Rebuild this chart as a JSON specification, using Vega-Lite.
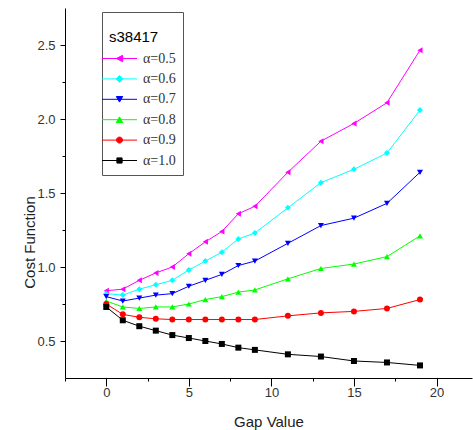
{
  "$schema": "https://vega.github.io/schema/vega-lite/v6.json",
  "width": 407,
  "height": 370,
  "autosize": {"type": "none"},
  "padding": {"left": 65, "top": 8, "right": 1, "bottom": 52},
  "background": "white",
  "config": {"view": {"stroke": null}, "font": "Liberation Sans"},
  "data": {"values": [
    {"gap": 0, "cost": 0.84, "alpha": "α=0.5"}, {"gap": 1, "cost": 0.85, "alpha": "α=0.5"}, {"gap": 2, "cost": 0.91, "alpha": "α=0.5"}, {"gap": 3, "cost": 0.96, "alpha": "α=0.5"}, {"gap": 4, "cost": 1.0, "alpha": "α=0.5"}, {"gap": 5, "cost": 1.09, "alpha": "α=0.5"}, {"gap": 6, "cost": 1.17, "alpha": "α=0.5"}, {"gap": 7, "cost": 1.24, "alpha": "α=0.5"}, {"gap": 8, "cost": 1.36, "alpha": "α=0.5"}, {"gap": 9, "cost": 1.41, "alpha": "α=0.5"}, {"gap": 11, "cost": 1.64, "alpha": "α=0.5"}, {"gap": 13, "cost": 1.85, "alpha": "α=0.5"}, {"gap": 15, "cost": 1.97, "alpha": "α=0.5"}, {"gap": 17, "cost": 2.11, "alpha": "α=0.5"}, {"gap": 19, "cost": 2.465, "alpha": "α=0.5"},
    {"gap": 0, "cost": 0.82, "alpha": "α=0.6"}, {"gap": 1, "cost": 0.81, "alpha": "α=0.6"}, {"gap": 2, "cost": 0.85, "alpha": "α=0.6"}, {"gap": 3, "cost": 0.88, "alpha": "α=0.6"}, {"gap": 4, "cost": 0.91, "alpha": "α=0.6"}, {"gap": 5, "cost": 0.98, "alpha": "α=0.6"}, {"gap": 6, "cost": 1.04, "alpha": "α=0.6"}, {"gap": 7, "cost": 1.1, "alpha": "α=0.6"}, {"gap": 8, "cost": 1.19, "alpha": "α=0.6"}, {"gap": 9, "cost": 1.23, "alpha": "α=0.6"}, {"gap": 11, "cost": 1.4, "alpha": "α=0.6"}, {"gap": 13, "cost": 1.57, "alpha": "α=0.6"}, {"gap": 15, "cost": 1.66, "alpha": "α=0.6"}, {"gap": 17, "cost": 1.77, "alpha": "α=0.6"}, {"gap": 19, "cost": 2.06, "alpha": "α=0.6"},
    {"gap": 0, "cost": 0.8, "alpha": "α=0.7"}, {"gap": 1, "cost": 0.77, "alpha": "α=0.7"}, {"gap": 2, "cost": 0.79, "alpha": "α=0.7"}, {"gap": 3, "cost": 0.81, "alpha": "α=0.7"}, {"gap": 4, "cost": 0.82, "alpha": "α=0.7"}, {"gap": 5, "cost": 0.87, "alpha": "α=0.7"}, {"gap": 6, "cost": 0.91, "alpha": "α=0.7"}, {"gap": 7, "cost": 0.95, "alpha": "α=0.7"}, {"gap": 8, "cost": 1.01, "alpha": "α=0.7"}, {"gap": 9, "cost": 1.04, "alpha": "α=0.7"}, {"gap": 11, "cost": 1.16, "alpha": "α=0.7"}, {"gap": 13, "cost": 1.28, "alpha": "α=0.7"}, {"gap": 15, "cost": 1.33, "alpha": "α=0.7"}, {"gap": 17, "cost": 1.43, "alpha": "α=0.7"}, {"gap": 19, "cost": 1.64, "alpha": "α=0.7"},
    {"gap": 0, "cost": 0.77, "alpha": "α=0.8"}, {"gap": 1, "cost": 0.73, "alpha": "α=0.8"}, {"gap": 2, "cost": 0.72, "alpha": "α=0.8"}, {"gap": 3, "cost": 0.73, "alpha": "α=0.8"}, {"gap": 4, "cost": 0.73, "alpha": "α=0.8"}, {"gap": 5, "cost": 0.75, "alpha": "α=0.8"}, {"gap": 6, "cost": 0.78, "alpha": "α=0.8"}, {"gap": 7, "cost": 0.8, "alpha": "α=0.8"}, {"gap": 8, "cost": 0.83, "alpha": "α=0.8"}, {"gap": 9, "cost": 0.845, "alpha": "α=0.8"}, {"gap": 11, "cost": 0.92, "alpha": "α=0.8"}, {"gap": 13, "cost": 0.99, "alpha": "α=0.8"}, {"gap": 15, "cost": 1.02, "alpha": "α=0.8"}, {"gap": 17, "cost": 1.07, "alpha": "α=0.8"}, {"gap": 19, "cost": 1.21, "alpha": "α=0.8"},
    {"gap": 0, "cost": 0.75, "alpha": "α=0.9"}, {"gap": 1, "cost": 0.68, "alpha": "α=0.9"}, {"gap": 2, "cost": 0.66, "alpha": "α=0.9"}, {"gap": 3, "cost": 0.65, "alpha": "α=0.9"}, {"gap": 4, "cost": 0.645, "alpha": "α=0.9"}, {"gap": 5, "cost": 0.645, "alpha": "α=0.9"}, {"gap": 6, "cost": 0.645, "alpha": "α=0.9"}, {"gap": 7, "cost": 0.645, "alpha": "α=0.9"}, {"gap": 8, "cost": 0.645, "alpha": "α=0.9"}, {"gap": 9, "cost": 0.645, "alpha": "α=0.9"}, {"gap": 11, "cost": 0.67, "alpha": "α=0.9"}, {"gap": 13, "cost": 0.69, "alpha": "α=0.9"}, {"gap": 15, "cost": 0.7, "alpha": "α=0.9"}, {"gap": 17, "cost": 0.72, "alpha": "α=0.9"}, {"gap": 19, "cost": 0.78, "alpha": "α=0.9"},
    {"gap": 0, "cost": 0.73, "alpha": "α=1.0"}, {"gap": 1, "cost": 0.64, "alpha": "α=1.0"}, {"gap": 2, "cost": 0.6, "alpha": "α=1.0"}, {"gap": 3, "cost": 0.57, "alpha": "α=1.0"}, {"gap": 4, "cost": 0.54, "alpha": "α=1.0"}, {"gap": 5, "cost": 0.52, "alpha": "α=1.0"}, {"gap": 6, "cost": 0.5, "alpha": "α=1.0"}, {"gap": 7, "cost": 0.48, "alpha": "α=1.0"}, {"gap": 8, "cost": 0.455, "alpha": "α=1.0"}, {"gap": 9, "cost": 0.44, "alpha": "α=1.0"}, {"gap": 11, "cost": 0.41, "alpha": "α=1.0"}, {"gap": 13, "cost": 0.395, "alpha": "α=1.0"}, {"gap": 15, "cost": 0.365, "alpha": "α=1.0"}, {"gap": 17, "cost": 0.355, "alpha": "α=1.0"}, {"gap": 19, "cost": 0.335, "alpha": "α=1.0"}
  ]},
  "encoding": {
    "x": {
      "field": "gap", "type": "quantitative",
      "scale": {"domain": [-2.5, 22.15], "nice": false, "zero": false},
      "axis": {
        "values": [-2.5, 0, 2.5, 5, 7.5, 10, 12.5, 15, 17.5, 20],
        "labelExpr": "datum.value % 5 === 0 ? datum.label : ''",
        "title": "Gap Value", "grid": false,
        "tickSize": {"condition": {"test": "datum.value % 5 === 0", "value": 8}, "value": 3},
        "domainColor": "black", "tickColor": "black", "tickWidth": 1, "domainWidth": 1,
        "labelFont": "Liberation Sans", "labelFontSize": 13, "labelColor": "#333", "labelPadding": 0,
        "labelFlush": false, "labelOverlap": false,
        "titleFont": "Liberation Sans", "titleFontSize": 15, "titleFontWeight": "normal", "titleColor": "#222", "titlePadding": 15
      }
    },
    "y": {
      "field": "cost", "type": "quantitative",
      "scale": {"domain": [0.25, 2.75], "nice": false, "zero": false},
      "axis": {
        "values": [0.5, 0.75, 1, 1.25, 1.5, 1.75, 2, 2.25, 2.5],
        "labelExpr": "abs(datum.value * 2 - round(datum.value * 2)) < 0.01 ? format(datum.value, '.1f') : ''",
        "title": "Cost Function", "grid": false,
        "tickSize": {"condition": {"test": "abs(datum.value * 2 - round(datum.value * 2)) < 0.01", "value": 5}, "value": 3},
        "domainColor": "black", "tickColor": "black", "tickWidth": 1, "domainWidth": 1,
        "labelFont": "Liberation Sans", "labelFontSize": 13, "labelColor": "#333", "labelPadding": 5,
        "labelFlush": false, "labelOverlap": false,
        "titleFont": "Liberation Sans", "titleFontSize": 15, "titleFontWeight": "normal", "titleColor": "#222",
        "titleX": -36, "titleY": 234, "titleBaseline": "middle"
      }
    }
  },
  "resolve": {"scale": {"color": "independent", "shape": "independent", "fill": "independent", "stroke": "independent"}},
  "layer": [
    {
      "mark": {"type": "line", "strokeWidth": 1},
      "encoding": {
        "color": {"field": "alpha", "type": "nominal", "legend": null,
          "scale": {"domain": ["α=0.5", "α=0.6", "α=0.7", "α=0.8", "α=0.9", "α=1.0"], "range": ["#FF00FF", "#00FFFF", "#0000FF", "#00FF00", "#FF0000", "#000000"]}}
      }
    },
    {
      "mark": {"type": "point", "filled": true, "size": 36, "opacity": 1},
      "encoding": {
        "color": {"field": "alpha", "type": "nominal", "legend": null,
          "scale": {"domain": ["α=0.5", "α=0.6", "α=0.7", "α=0.8", "α=0.9", "α=1.0"], "range": ["#FF00FF", "#00FFFF", "#0000FF", "#00FF00", "#FF0000", "#000000"]}},
        "shape": {"field": "alpha", "type": "nominal", "legend": null,
          "scale": {"domain": ["α=0.5", "α=0.6", "α=0.7", "α=0.8", "α=0.9", "α=1.0"], "range": ["triangle-left", "diamond", "triangle-down", "triangle-up", "circle", "square"]}}
      }
    },
    {
      "transform": [{"filter": "false"}],
      "mark": {"type": "point", "filled": true, "opacity": 1, "strokeWidth": 1},
      "encoding": {
        "fill": {"field": "alpha", "type": "nominal",
          "scale": {"domain": ["α=0.5", "α=0.6", "α=0.7", "α=0.8", "α=0.9", "α=1.0"], "range": ["#FF00FF", "#00FFFF", "#0000FF", "#00FF00", "#FF0000", "#000000"]},
          "legend": {
            "orient": "none", "legendX": 37, "legendY": 4,
            "title": ["", "s38417"],
            "titleFont": "Liberation Sans", "titleFontSize": 15, "titleFontWeight": "normal", "titleColor": "black",
            "titleLineHeight": 11, "titlePadding": 3, "titleAnchor": "start",
            "padding": 7, "strokeColor": "#555", "fillColor": "white",
            "symbolSize": 400, "symbolStrokeWidth": 1, "symbolOpacity": 1, "rowPadding": 2.4, "labelOffset": 13,
            "labelFont": "Liberation Serif", "labelFontSize": 14, "labelColor": "#333"
          }},
        "stroke": {"field": "alpha", "type": "nominal",
          "scale": {"domain": ["α=0.5", "α=0.6", "α=0.7", "α=0.8", "α=0.9", "α=1.0"], "range": ["#FF00FF", "#00FFFF", "#0000FF", "#00FF00", "#FF0000", "#000000"]},
          "legend": {
            "orient": "none", "legendX": 37, "legendY": 4,
            "title": ["", "s38417"],
            "titleFont": "Liberation Sans", "titleFontSize": 15, "titleFontWeight": "normal", "titleColor": "black",
            "titleLineHeight": 11, "titlePadding": 3, "titleAnchor": "start",
            "padding": 7, "strokeColor": "#555", "fillColor": "white",
            "symbolSize": 400, "symbolStrokeWidth": 1, "symbolOpacity": 1, "rowPadding": 2.4, "labelOffset": 13,
            "labelFont": "Liberation Serif", "labelFontSize": 14, "labelColor": "#333"
          }},
        "shape": {"field": "alpha", "type": "nominal",
          "scale": {"domain": ["α=0.5", "α=0.6", "α=0.7", "α=0.8", "α=0.9", "α=1.0"],
            "range": [
              "M-1.75,0L1.75,0M-0.32,0L0.32,-0.32L0.32,0.32Z",
              "M-1.75,0L1.75,0M-0.34,0L0,-0.34L0.34,0L0,0.34Z",
              "M-1.75,0L1.75,0M-0.32,-0.28L0.32,-0.28L0,0.28Z",
              "M-1.75,0L1.75,0M-0.32,0.28L0.32,0.28L0,-0.28Z",
              "M-1.75,0L1.75,0M-0.3,0A0.3,0.3,0,1,0,0.3,0A0.3,0.3,0,1,0,-0.3,0Z",
              "M-1.75,0L1.75,0M-0.26,-0.26L0.26,-0.26L0.26,0.26L-0.26,0.26Z"
            ]},
          "legend": {
            "orient": "none", "legendX": 37, "legendY": 4,
            "title": ["", "s38417"],
            "titleFont": "Liberation Sans", "titleFontSize": 15, "titleFontWeight": "normal", "titleColor": "black",
            "titleLineHeight": 11, "titlePadding": 3, "titleAnchor": "start",
            "padding": 7, "strokeColor": "#555", "fillColor": "white",
            "symbolSize": 400, "symbolStrokeWidth": 1, "symbolOpacity": 1, "rowPadding": 2.4, "labelOffset": 13,
            "labelFont": "Liberation Serif", "labelFontSize": 14, "labelColor": "#333"
          }}
      }
    }
  ]
}
